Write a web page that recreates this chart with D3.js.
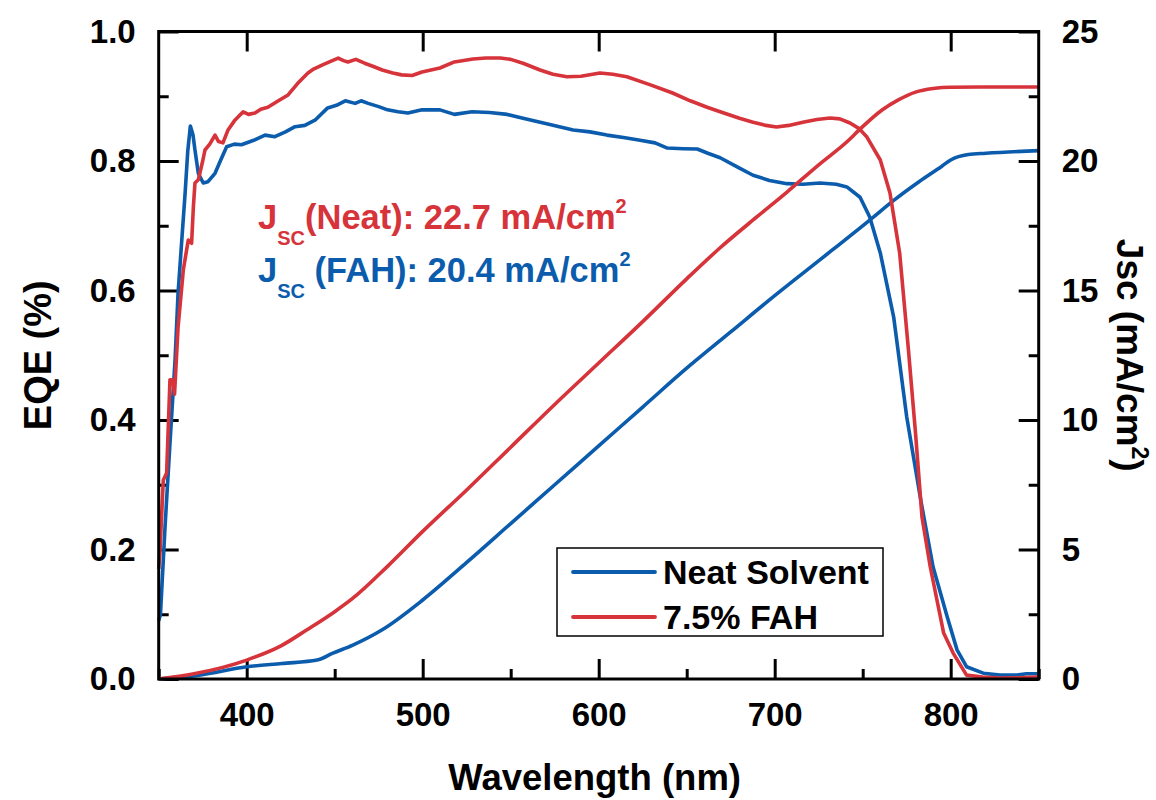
<!DOCTYPE html>
<html>
<head>
<meta charset="utf-8">
<script src="https://cdn.jsdelivr.net/npm/d3@7"></script>
<style>
  body { margin: 0; background: #fff; }
  svg text { font-family: "Liberation Sans", Arial, sans-serif; font-weight: bold; }
</style>
</head>
<body>
<div id="svgDiv"></div>
<script>
var width = 1156, height = 800;

// EQE, neat solvent (blue)
var neatEqeWl = [350, 351, 353.6, 356.4, 359.3, 361, 363, 365, 366.5, 368, 369.5, 370.6, 372.5, 375.3, 378, 382, 385, 388.6,
  393, 397, 404, 410.4, 416, 422, 427.5, 433, 438.8, 446, 451, 456, 461.6, 465, 469, 475, 480, 486, 491.6, 499.6, 509.8, 518,
  528, 538, 548, 557, 571, 585.5, 595, 604.7, 615, 623.5, 632, 639, 648, 656, 662, 669, 680, 687.7, 697, 707, 716, 725.7, 735,
  741, 748.5, 754, 760, 767.6, 775, 783, 790, 798, 803.6, 809, 818.5, 828, 837.5, 843, 850];
var neatEqe = [0.09, 0.10, 0.235, 0.364, 0.493, 0.596, 0.673, 0.75, 0.815, 0.854, 0.84, 0.817, 0.781, 0.766, 0.768, 0.781, 0.80, 0.822,
  0.826, 0.825, 0.832, 0.840, 0.8375, 0.845, 0.853, 0.855, 0.863, 0.882, 0.886, 0.893, 0.889, 0.893, 0.889, 0.884, 0.879, 0.876, 0.874, 0.879, 0.879, 0.872,
  0.876, 0.875, 0.872, 0.866, 0.857, 0.848, 0.845, 0.840, 0.836, 0.832, 0.828, 0.820, 0.819, 0.8185, 0.812, 0.805, 0.789, 0.778, 0.770, 0.765, 0.764, 0.766, 0.764,
  0.760, 0.744, 0.7135, 0.658, 0.559, 0.405, 0.276, 0.173, 0.096, 0.045, 0.019, 0.009, 0.006, 0.006, 0.008, 0.008];

// EQE, 7.5% FAH (red)
var fahEqeWl = [350, 350.7, 352.6, 354.5, 356.4, 358, 359, 361, 364, 366.8, 368.7, 369.7, 370.6, 372.5, 375, 376.3, 379, 382, 384, 386.5,
  389.4, 393, 398, 401, 404.7, 408, 412, 418, 423.5, 429, 434.8, 438, 442.8, 447, 452, 455, 457.5, 462, 467, 472, 477, 483, 488, 494,
  499.6, 509.8, 518, 528.6, 536, 544, 550, 557, 566.7, 574, 582, 590, 600.7, 608, 616, 629, 642, 652, 661.6, 669, 680, 687.7, 695,
  701, 708, 716, 724, 731.4, 737, 742.8, 748, 752.4, 760, 765.5, 771, 776, 780, 783.7, 788.4, 796, 801.4, 809, 818, 828, 838, 850];
var fahEqe = [0.17, 0.195, 0.307, 0.318, 0.462, 0.462, 0.44, 0.543, 0.632, 0.678, 0.673, 0.729, 0.766, 0.771, 0.80, 0.817, 0.826, 0.840, 0.830, 0.828,
  0.848, 0.862, 0.876, 0.872, 0.874, 0.880, 0.883, 0.893, 0.902, 0.920, 0.936, 0.942, 0.948, 0.953, 0.959, 0.955, 0.953, 0.957, 0.951, 0.946, 0.9405, 0.936, 0.933, 0.932,
  0.9375, 0.9436, 0.953, 0.9575, 0.959, 0.959, 0.957, 0.951, 0.9405, 0.934, 0.930, 0.931, 0.936, 0.934, 0.930, 0.918, 0.905, 0.893, 0.883, 0.876, 0.866, 0.860, 0.855,
  0.8525, 0.855, 0.860, 0.864, 0.8665, 0.865, 0.8587, 0.85, 0.837, 0.8015, 0.7506, 0.658, 0.508, 0.380, 0.250, 0.173, 0.071, 0.040, 0.006, 0.003, 0.0015, 0.002, 0.003];

// integrated Jsc, neat solvent (blue)
var neatJscWl = [350, 373, 400, 420, 440, 449, 460, 477, 500, 525, 550, 575, 600, 625, 650, 675, 700, 726, 754, 768, 782, 795, 800, 810, 820, 850];
var neatJsc = [0, 0.15, 0.47, 0.6, 0.73, 1.0, 1.3, 1.9, 3.05, 4.5, 6.0, 7.5, 9.0, 10.5, 12.0, 13.4, 14.8, 16.2, 17.72, 18.5, 19.2, 19.8, 20.04, 20.25, 20.3, 20.4];

// integrated Jsc, 7.5% FAH (red)
var fahJscWl = [350, 370, 400, 420, 434, 450, 460, 480, 500, 525, 550, 575, 600, 625, 650, 669, 690, 707, 725, 742, 748, 761, 770, 780, 790, 800, 850];
var fahJsc = [0, 0.2, 0.73, 1.3, 1.89, 2.6, 3.1, 4.35, 5.7, 7.3, 8.95, 10.6, 12.2, 13.8, 15.45, 16.65, 17.85, 18.8, 19.85, 20.8, 21.2, 21.97, 22.35, 22.66, 22.8, 22.85, 22.86];

var xTicks = [400, 500, 600, 700, 800];
var xMinor = [350, 450, 550, 650, 750, 850];
var eqeTicks = [0, 0.2, 0.4, 0.6, 0.8, 1.0];
var eqeMinor = [0.1, 0.3, 0.5, 0.7, 0.9];
var jscTicks = [0, 5, 10, 15, 20, 25];
var jscMinor = [2.5, 7.5, 12.5, 17.5, 22.5];

var blue = "#0b5cad", red = "#d6333a";

var pLeft = 158.7, pRight = 1038.7, pTop = 31.5, pBottom = 679;

var x = d3.scaleLinear().domain([350, 850]).range([pLeft, pRight]);
var yL = d3.scaleLinear().domain([0, 1]).range([pBottom, pTop]);
var yR = d3.scaleLinear().domain([0, 25]).range([pBottom, pTop]);

var svg = d3.select("#svgDiv").append("svg")
  .attr("width", width)
  .attr("height", height);

// axes, ticks pointing inward
function styleAxis(g) {
  g.select(".domain").remove();
  g.selectAll(".tick line").attr("stroke", "#000").attr("stroke-width", 3);
  g.selectAll(".tick text").attr("fill", "#000").style("font-size", "33px");
}

svg.append("g").attr("transform", "translate(0," + pBottom + ")")
  .call(d3.axisBottom(x).tickValues(xTicks).tickSize(-20).tickPadding(24).tickFormat(d3.format("d")))
  .call(styleAxis);
svg.append("g").attr("transform", "translate(0," + pBottom + ")")
  .call(d3.axisBottom(x).tickValues(xMinor).tickSize(-10).tickFormat(""))
  .call(styleAxis);
svg.append("g").attr("transform", "translate(0," + pTop + ")")
  .call(d3.axisTop(x).tickValues(xTicks).tickSize(-20).tickFormat(""))
  .call(styleAxis);

svg.append("g").attr("transform", "translate(" + pLeft + ",0)")
  .call(d3.axisLeft(yL).tickValues(eqeTicks).tickSize(-20).tickPadding(23).tickFormat(d3.format(".1f")))
  .call(styleAxis);
svg.append("g").attr("transform", "translate(" + pLeft + ",0)")
  .call(d3.axisLeft(yL).tickValues(eqeMinor).tickSize(-10).tickFormat(""))
  .call(styleAxis);

svg.append("g").attr("transform", "translate(" + pRight + ",0)")
  .call(d3.axisRight(yR).tickValues(jscTicks).tickSize(-20).tickPadding(23).tickFormat(d3.format("d")))
  .call(styleAxis);
svg.append("g").attr("transform", "translate(" + pRight + ",0)")
  .call(d3.axisRight(yR).tickValues(jscMinor).tickSize(-10).tickFormat(""))
  .call(styleAxis);

// curves
var lineL = d3.line().x(function(d) { return x(d[0]); }).y(function(d) { return yL(d[1]); });
var lineR = d3.line().x(function(d) { return x(d[0]); }).y(function(d) { return yR(d[1]); })
  .curve(d3.curveMonotoneX);

function pairs(a, b) { return a.map(function(v, i) { return [v, b[i]]; }); }

var plot = svg.append("g");
plot.append("path").datum(pairs(neatEqeWl, neatEqe)).attr("d", lineL)
  .attr("fill", "none").attr("stroke", blue).attr("stroke-width", 3.6).attr("stroke-linejoin", "round");
plot.append("path").datum(pairs(neatJscWl, neatJsc)).attr("d", lineR)
  .attr("fill", "none").attr("stroke", blue).attr("stroke-width", 3.6);
plot.append("path").datum(pairs(fahEqeWl, fahEqe)).attr("d", lineL)
  .attr("fill", "none").attr("stroke", red).attr("stroke-width", 3.6).attr("stroke-linejoin", "round");
plot.append("path").datum(pairs(fahJscWl, fahJsc)).attr("d", lineR)
  .attr("fill", "none").attr("stroke", red).attr("stroke-width", 3.6);

// frame
svg.append("rect")
  .attr("x", pLeft).attr("y", pTop)
  .attr("width", pRight - pLeft).attr("height", pBottom - pTop)
  .attr("fill", "none").attr("stroke", "#000").attr("stroke-width", 3);

// axis titles
svg.append("text")
  .attr("x", (pLeft + pRight) / 2 - 4).attr("y", 790)
  .attr("text-anchor", "middle").style("font-size", "36.5px")
  .text("Wavelength (nm)");

svg.append("text")
  .attr("transform", "translate(51," + (pTop + pBottom) / 2 + ") rotate(-90)")
  .attr("text-anchor", "middle").style("font-size", "38px")
  .text("EQE (%)");

var rt = svg.append("text")
  .attr("transform", "translate(1117," + (pTop + pBottom) / 2 + ") rotate(90)")
  .attr("text-anchor", "middle").style("font-size", "37px");
rt.append("tspan").text("Jsc (mA/cm");
rt.append("tspan").attr("dy", -15).style("font-size", "23px").text("2");
rt.append("tspan").attr("dy", 15).text(")");

// Jsc annotations
function jscLabel(y, color, name, val) {
  var t = svg.append("text").attr("x", 258).attr("y", y).attr("fill", color).style("font-size", "34.5px");
  t.append("tspan").text("J");
  t.append("tspan").attr("dy", 16).style("font-size", "20px").text("SC");
  t.append("tspan").attr("dy", -16).text(name + ": " + val + " mA/cm");
  t.append("tspan").attr("dy", -16).style("font-size", "20px").text("2");
}
jscLabel(229, red, "(Neat)", "22.7");
jscLabel(282, blue, " (FAH)", "20.4");

// legend
var legendNames = ["Neat Solvent", "7.5% FAH"];
var legendColors = [blue, red];
var lg = svg.append("g");
lg.append("rect").attr("x", 557).attr("y", 548).attr("width", 326).attr("height", 88)
  .attr("fill", "#fff").attr("stroke", "#000").attr("stroke-width", 1.5);
legendNames.forEach(function(n, i) {
  var yy = 572 + i * 45;
  lg.append("line").attr("x1", 573).attr("x2", 655).attr("y1", yy).attr("y2", yy)
    .attr("stroke", legendColors[i]).attr("stroke-width", 3.8).attr("stroke-linecap", "round");
  lg.append("text").attr("x", 663).attr("y", yy + 12).style("font-size", "34px").text(n);
});
</script>
</body>
</html>
